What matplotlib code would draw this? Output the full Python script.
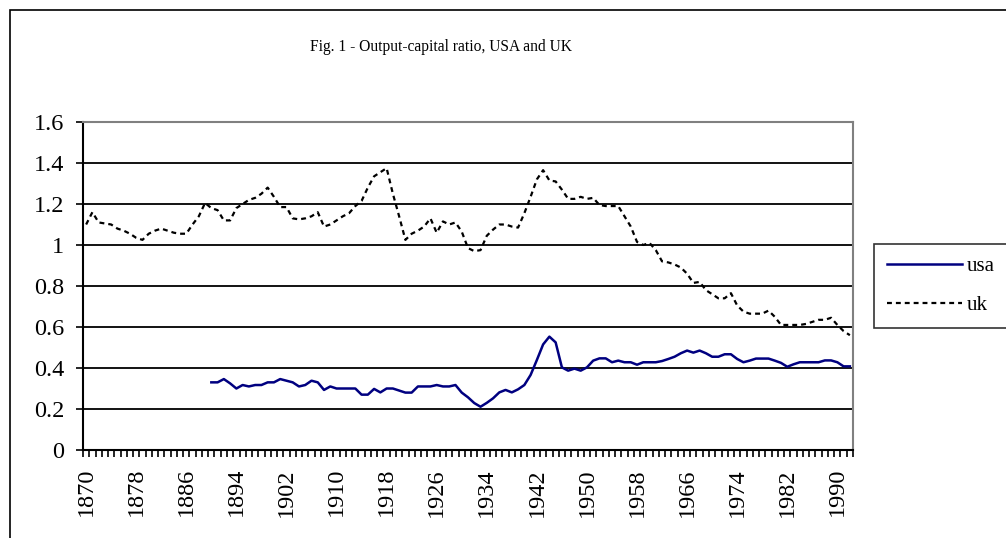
import matplotlib
matplotlib.use("Agg")
import matplotlib.pyplot as plt
from matplotlib.patches import Rectangle

years = list(range(1870, 1993))

usa_start = 1890
usa = [0.33, 0.33, 0.346, 0.325, 0.30, 0.317, 0.31, 0.317, 0.317, 0.33,
       0.33, 0.346, 0.338, 0.33, 0.31, 0.317, 0.338, 0.33, 0.293, 0.31,
       0.30, 0.30, 0.30, 0.30, 0.27, 0.27, 0.298, 0.281, 0.30, 0.30,
       0.29, 0.28, 0.28, 0.31, 0.31, 0.31, 0.317, 0.31, 0.31, 0.317,
       0.28, 0.257, 0.229, 0.211, 0.23, 0.252, 0.281, 0.293, 0.281, 0.296,
       0.317, 0.366, 0.439, 0.515, 0.553, 0.525, 0.403, 0.387, 0.397, 0.387,
       0.403, 0.436, 0.447, 0.447, 0.428, 0.436, 0.428, 0.428, 0.416, 0.428,
       0.428, 0.428, 0.434, 0.444, 0.455, 0.472, 0.485, 0.475, 0.485, 0.472,
       0.455, 0.455, 0.467, 0.467, 0.444, 0.428, 0.436, 0.446, 0.446, 0.446,
       0.436, 0.425, 0.406, 0.418, 0.428, 0.428, 0.428, 0.428, 0.437, 0.437,
       0.428, 0.408, 0.408]

uk = [1.10, 1.16, 1.11, 1.105, 1.10, 1.08, 1.07, 1.055, 1.035, 1.025,
      1.055, 1.07, 1.08, 1.07, 1.06, 1.055, 1.055, 1.10, 1.14, 1.205,
      1.18, 1.17, 1.12, 1.12, 1.18, 1.20, 1.22, 1.23, 1.25, 1.28,
      1.235, 1.185, 1.185, 1.13, 1.125, 1.13, 1.14, 1.16, 1.09, 1.10,
      1.12, 1.14, 1.155, 1.19, 1.215, 1.28, 1.335, 1.355, 1.375, 1.25,
      1.14, 1.025, 1.055, 1.07, 1.09, 1.13, 1.06, 1.115, 1.10, 1.11,
      1.065, 0.985, 0.97, 0.975, 1.045, 1.075, 1.10, 1.10, 1.09, 1.085,
      1.155, 1.235, 1.32, 1.365, 1.315, 1.31, 1.27, 1.225, 1.225, 1.235,
      1.225, 1.23, 1.195, 1.19, 1.19, 1.19, 1.14, 1.09, 1.015, 1.00,
      1.01, 0.975, 0.92, 0.915, 0.905, 0.89, 0.86, 0.815, 0.82, 0.78,
      0.76, 0.74, 0.74, 0.765, 0.705, 0.675, 0.665, 0.665, 0.665, 0.68,
      0.65, 0.61, 0.61, 0.61, 0.61, 0.615, 0.625, 0.635, 0.635, 0.645,
      0.61, 0.58, 0.56]

title = "Fig. 1 - Output-capital ratio, USA and UK"
y_ticks = [0, 0.2, 0.4, 0.6, 0.8, 1.0, 1.2, 1.4, 1.6]
y_labels = ["0", "0.2", "0.4", "0.6", "0.8", "1", "1.2", "1.4", "1.6"]
label_step = 8

plt.rcParams['font.family'] = ['Liberation Serif', 'DejaVu Serif']

W, H = 1006, 538
fig = plt.figure(figsize=(W / 100, H / 100), dpi=100)

# outer chart border
fig.patches.append(Rectangle((10 / W, -0.05), 1.05, 1 - 10 / H + 0.05,
                             transform=fig.transFigure, fill=False,
                             edgecolor='black', linewidth=1.2))

L, R, T, B = 83, 853, 122, 450
ax = fig.add_axes([L / W, 1 - B / H, (R - L) / W, (B - T) / H])

xi = list(range(len(years)))
usa_x = [years.index(usa_start) + k for k in range(len(usa))]

ax.plot(usa_x, usa, color='#000080', lw=1.8, label='usa', zorder=3)
ax.plot(xi, uk, color='black', lw=1.6, ls=(0, (2.2, 1.8)), label='uk', zorder=3)

ax.set_xlim(-0.5, len(years) - 0.5)
ax.set_ylim(0, 1.6)

ax.set_yticks(y_ticks)
ax.set_yticklabels(y_labels, fontsize=17.5)
for v in y_ticks[1:]:
    ax.axhline(v, color='black', lw=1.3, zorder=1)

lab_pos = [i for i in xi if i % label_step == 0]
ax.set_xticks(lab_pos)
ax.set_xticklabels([str(years[i]) for i in lab_pos], rotation=90, fontsize=17.5)
ax.set_xticks([i - 0.5 for i in range(len(years) + 1)], minor=True)
ax.tick_params(axis='x', which='major', length=0, pad=13)
ax.tick_params(axis='x', which='minor', length=5, width=1.2, direction='out')
ax.tick_params(axis='y', length=5, width=1.2, direction='out', pad=8.5)

for s in ['left', 'bottom']:
    ax.spines[s].set_color('black')
    ax.spines[s].set_linewidth(1.5)
for s in ['top', 'right']:
    ax.spines[s].set_color('#808080')
    ax.spines[s].set_linewidth(1.5)

fig.text(441 / W, 1 - 47 / H, title, ha='center', va='center', fontsize=11.2)

leg = fig.legend(loc='upper left', bbox_to_anchor=(874 / W, 1 - 244 / H),
                 fontsize=15, frameon=True, fancybox=False, edgecolor='black',
                 handlelength=3.6, handletextpad=0.25, borderpad=0.6,
                 labelspacing=0.95, borderaxespad=0)
leg.get_frame().set_linewidth(1.2)

fig.savefig('out.png', dpi=100)
